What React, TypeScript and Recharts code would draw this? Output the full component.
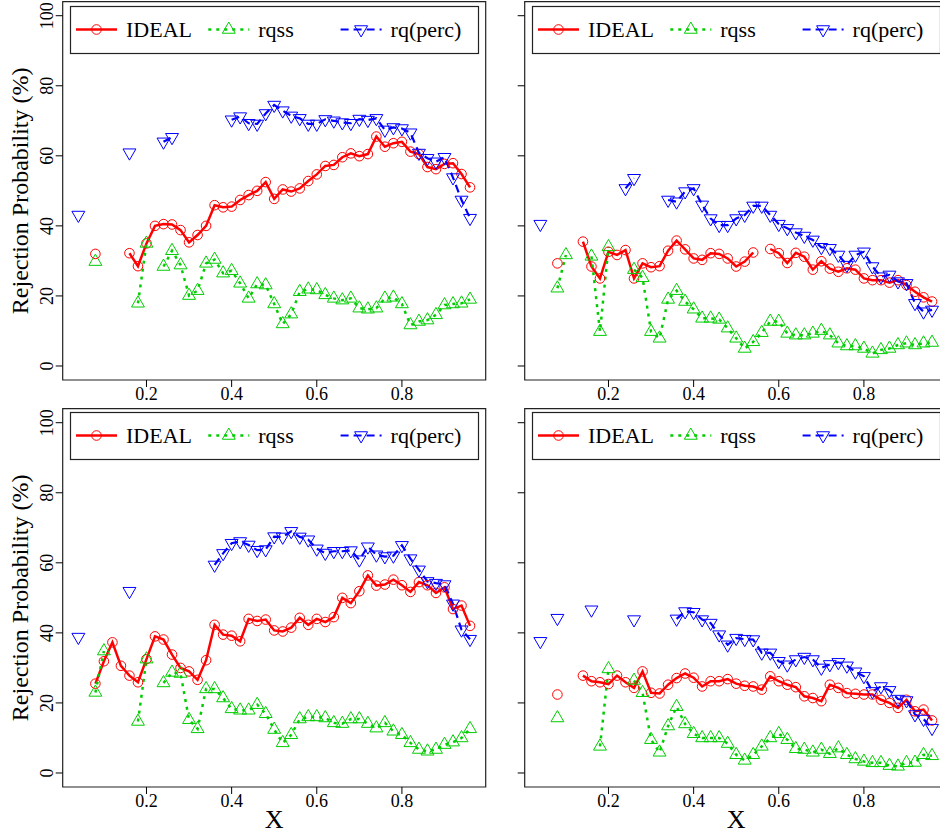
import React from 'react';
import { LineChart, Line, XAxis, YAxis, ReferenceArea, Legend } from 'recharts';

// ---------- data ----------
const X_VALUES = [
  0.04, 0.06, 0.08, 0.10, 0.12, 0.14, 0.16, 0.18, 0.20, 0.22,
  0.24, 0.26, 0.28, 0.30, 0.32, 0.34, 0.36, 0.38, 0.40, 0.42,
  0.44, 0.46, 0.48, 0.50, 0.52, 0.54, 0.56, 0.58, 0.60, 0.62,
  0.64, 0.66, 0.68, 0.70, 0.72, 0.74, 0.76, 0.78, 0.80, 0.82,
  0.84, 0.86, 0.88, 0.90, 0.92, 0.94, 0.96,
];

const X_TICKS = [0.2, 0.4, 0.6, 0.8];
const Y_TICKS = [0, 20, 40, 60, 80, 100];
const SERIES_KEYS = ['ideal', 'rqss', 'rqperc'];
const SERIES_NAMES = ['IDEAL', 'rqss', 'rq(perc)'];
const Y_TITLE = 'Rejection Probability (%)';
const X_TITLE = 'X';

// Panel 1 (top-left)
const P1_IDEAL = [
  null, null, 32.0, null, null, null, 32.2, 28.5, 35.0, 40.0,
  40.5, 40.4, 38.8, 35.3, 37.4, 40.0, 45.9, 45.3, 45.5, 47.4,
  48.8, 50.0, 52.5, 47.7, 50.4, 49.8, 50.7, 52.8, 54.7, 57.1,
  57.4, 59.6, 60.7, 59.9, 60.5, 65.5, 62.6, 63.6, 64.0, 61.2,
  60.5, 56.8, 56.2, 57.7, 57.9, 54.8, 51.0,
];
const P1_RQSS = [
  null, null, 29.8, null, null, null, null, 17.9, 35.0, null,
  28.4, 32.9, 28.8, 20.1, 21.5, 29.3, 30.4, 26.5, 27.2, 23.6,
  19.3, 23.4, 23.1, 17.7, 12.0, 14.8, 21.2, 21.9, 21.7, 20.3,
  19.3, 18.8, 19.3, 16.5, 16.2, 16.5, 19.3, 19.6, 17.7, 11.7,
  12.7, 13.1, 14.6, 17.4, 17.7, 17.9, 19.0,
];
const P1_RQPERC = [
  43.1, null, null, null, null, null, 60.9, null, null, null,
  64.0, 65.3, null, null, null, null, null, null, 70.3, 71.2,
  69.3, 69.1, 72.1, 74.5, 72.9, 71.4, 70.7, 69.1, 69.1, 70.4,
  70.0, 69.5, 69.3, 70.5, 70.2, 70.7, 67.4, 68.1, 67.8, 66.6,
  60.8, 59.3, 58.3, 59.6, 53.8, 47.4, 42.2,
];

// Panel 2 (top-right)
const P2_IDEAL = [
  null, null, 29.3, null, null, 35.5, 28.4, 25.0, 32.6, 31.7,
  33.1, 25.0, 29.3, 28.2, 28.5, 32.9, 35.8, 33.3, 30.7, 30.3,
  32.2, 32.0, 30.7, 28.4, 29.8, 32.4, null, 33.4, 32.2, 29.4,
  32.3, 31.2, 27.5, 29.9, 27.8, 26.9, 27.9, 27.5, 25.0, 24.5,
  24.5, 23.8, 24.5, 23.1, 21.2, 19.6, 18.4,
];
const P2_RQSS = [
  null, null, 22.2, 31.7, null, null, 31.3, 9.8, 34.0, null,
  null, 27.5, 25.2, 9.8, 7.9, 19.0, 21.5, 18.4, 16.2, 13.6,
  13.6, 13.3, 10.8, 7.9, 5.0, 6.9, 9.5, 12.7, 12.7, 9.3,
  8.8, 8.8, 9.3, 10.1, 8.8, 6.5, 5.7, 5.7, 5.0, 3.6,
  4.6, 5.0, 6.0, 6.5, 6.0, 6.5, 6.7,
];
const P2_RQPERC = [
  40.5, null, null, null, null, null, null, null, null, null,
  50.7, 53.6, null, null, null, 47.4, 46.9, 49.8, 50.7, 46.0,
  42.1, 40.2, 40.2, 42.1, 43.1, 45.7, 45.7, 43.1, 40.5, 39.3,
  38.1, 37.1, 36.0, 33.9, 33.6, 31.7, 28.8, 31.7, 32.6, 28.4,
  25.5, 26.0, 24.1, 23.6, 17.9, 15.5, 16.0,
];

// Panel 3 (bottom-left)
const P3_IDEAL = [
  null, null, 25.5, 31.9, 37.3, 30.6, 27.8, 25.9, 32.5, 39.0,
  38.1, 33.8, 30.0, 29.0, 26.6, 32.2, 42.3, 39.5, 39.2, 37.6,
  44.0, 43.4, 43.8, 40.7, 40.4, 41.5, 44.3, 42.3, 44.0, 43.1,
  44.5, 50.0, 48.5, 51.9, 56.4, 53.5, 53.8, 55.2, 53.6, 51.7,
  54.5, 53.6, 51.4, 53.0, 46.8, 47.8, 42.0,
];
const P3_RQSS = [
  null, null, 23.0, 34.8, null, null, null, 14.7, 32.5, null,
  25.7, 28.7, 28.4, 15.2, 12.6, 24.0, 24.0, 21.4, 18.3, 17.9,
  17.9, 19.5, 16.9, 12.4, 8.6, 10.9, 15.4, 16.0, 16.0, 15.7,
  14.3, 14.1, 15.4, 15.4, 14.1, 12.8, 14.3, 11.9, 10.9, 8.6,
  6.7, 6.2, 6.7, 8.1, 8.8, 10.0, 12.6,
];
const P3_RQPERC = [
  38.8, null, null, null, null, null, 51.9, null, null, null,
  null, null, null, null, null, null, 59.4, 62.7, 65.6, 66.1,
  65.1, 63.6, 63.8, 67.5, 67.4, 69.0, 67.4, 66.6, 64.0, 62.8,
  63.3, 63.3, 63.5, 60.9, 64.6, 62.3, 61.8, 62.0, 65.0, 61.2,
  58.0, 54.7, 54.2, 53.8, 48.3, 40.9, 38.2,
];

// Panel 4 (bottom-right)
const P4_IDEAL = [
  null, null, 22.4, null, null, 27.8, 26.2, 25.9, 25.4, 27.8,
  25.9, 24.3, 29.0, 22.9, 22.7, 25.2, 27.1, 28.4, 27.2, 24.7,
  26.2, 26.2, 26.8, 25.5, 24.9, 24.7, 23.8, 27.6, 26.2, 25.2,
  24.5, 21.9, 21.4, 20.5, 25.2, 24.3, 22.8, 22.6, 22.4, 22.4,
  20.9, 20.0, 18.6, 20.9, 17.6, 18.1, 15.0,
];
const P4_RQSS = [
  null, null, 15.7, null, null, null, null, 7.6, 29.7, null,
  null, 26.4, 22.9, 9.5, 5.9, 13.4, 18.9, 14.0, 11.2, 10.0,
  10.0, 10.0, 8.4, 5.2, 3.6, 5.2, 7.6, 10.0, 11.2, 9.5,
  6.9, 6.7, 5.9, 6.7, 5.5, 7.1, 5.2, 4.0, 3.3, 2.9,
  2.9, 2.1, 1.9, 2.9, 3.0, 5.2, 4.9,
];
const P4_RQPERC = [
  37.6, null, 44.2, null, null, null, 46.6, null, null, null,
  null, 43.8, null, null, null, null, 44.0, 46.1, 45.9, 43.8,
  42.8, 39.5, 36.6, 38.5, 38.2, 38.1, 34.3, 34.3, 31.9, 30.9,
  32.4, 33.1, 32.4, 30.0, 31.0, 31.6, 30.6, 28.9, 27.6, 23.3,
  24.7, 23.6, 21.1, 20.7, 16.7, 15.4, 12.8,
];

// ---------- styles ----------
const FONT = 'Liberation Serif, DejaVu Serif, serif';
const X_DOMAIN = [0.0032, 0.9968];
const Y_DOMAIN = [-4, 104];
const MS = 4.8; // marker size unit

const STYLES: Record<string, any> = {
  ideal: { color: '#FF0000', dash: undefined, width: 2.5, marker: 'circle' },
  rqss: { color: '#00CD00', dash: '3 5', width: 2.5, marker: 'up' },
  rqperc: { color: '#0000FF', dash: '8 5', width: 2.2, marker: 'down' },
};

function Marker({ kind, cx, cy, color }: any) {
  if (kind === 'circle') {
    return <circle cx={cx} cy={cy} r={MS} fill="none" stroke={color} strokeWidth={1} />;
  }
  if (kind === 'up') {
    const pts = `${cx},${cy - 1.555 * MS} ${cx + 1.347 * MS},${cy + 0.778 * MS} ${cx - 1.347 * MS},${cy + 0.778 * MS}`;
    return <polygon points={pts} fill="none" stroke={color} strokeWidth={1} />;
  }
  const pts = `${cx},${cy + 1.555 * MS} ${cx + 1.347 * MS},${cy - 0.778 * MS} ${cx - 1.347 * MS},${cy - 0.778 * MS}`;
  return <polygon points={pts} fill="none" stroke={color} strokeWidth={1} />;
}

const makeDot = (key: string) => (props: any) => {
  const { cx, cy, value, index } = props;
  const st = STYLES[key];
  if (value === null || value === undefined || cx == null || cy == null || isNaN(cy)) {
    return <g key={`${key}-e-${index}`} />;
  }
  return (
    <g key={`${key}-d-${index}`}>
      <Marker kind={st.marker} cx={cx} cy={cy} color={st.color} />
    </g>
  );
};

const XTick = (props: any) => {
  const { x, y, payload } = props;
  return (
    <text x={x} y={y + 13} textAnchor="middle" style={{ fontFamily: FONT }} fontSize={18} fill="#000">
      {String(payload.value)}
    </text>
  );
};

const YTick = (props: any) => {
  const { x, y, payload } = props;
  return (
    <text
      transform={`translate(${x - 2.4},${y}) rotate(-90)`}
      x={0}
      y={0}
      textAnchor="middle"
      style={{ fontFamily: FONT }}
      fontSize={18}
      fill="#000"
    >
      {String(payload.value)}
    </text>
  );
};

const EmptyTick = () => <g />;

const YTitle = (props: any) => {
  const vb = props.viewBox || { x: 0, y: 1.7, width: 62.7, height: 378.3 };
  const cy = vb.y + vb.height / 2;
  return (
    <text
      transform={`translate(${28},${cy}) rotate(-90)`}
      x={0}
      y={0}
      textAnchor="middle"
      style={{ fontFamily: FONT }}
      fontSize={24}
      fill="#000"
    >
      {Y_TITLE}
    </text>
  );
};

const XTitle = (props: any) => {
  const vb = props.viewBox || { x: 62.7, y: 380, width: 423, height: 60 };
  return (
    <text x={vb.x + vb.width / 2} y={vb.y + 41} textAnchor="middle" style={{ fontFamily: FONT }} fontSize={26} fill="#000">
      {X_TITLE}
    </text>
  );
};

const renderLegend = (props: any) => {
  const payload = [...(props.payload || [])].sort(
    (a: any, b: any) => SERIES_KEYS.indexOf(a.dataKey) - SERIES_KEYS.indexOf(b.dataKey)
  );
  return (
    <svg width={410} height={49} style={{ display: 'block', overflow: 'visible' }}>
      <rect x={0.5} y={0.5} width={408} height={47} fill="#fff" stroke="#222" strokeWidth={1.2} />
      {payload.map((entry: any, i: number) => {
        const st = STYLES[entry.dataKey];
        const x0 = 6 + 132.3 * i;
        return (
          <g key={`leg-${i}`}>
            <line
              x1={x0}
              x2={x0 + 41}
              y1={23.5}
              y2={23.5}
              stroke={st.color}
              strokeWidth={st.width}
              strokeDasharray={st.dash}
            />
            <Marker kind={st.marker} cx={x0 + 20.5} cy={23.5} color={st.color} />
            <text x={x0 + 50} y={31} style={{ fontFamily: FONT }} fontSize={22} fill="#000">
              {entry.value}
            </text>
          </g>
        );
      })}
    </svg>
  );
};

function buildRows(ideal: any[], rqss: any[], rqperc: any[]) {
  return X_VALUES.map((x, i) => ({ x, ideal: ideal[i], rqss: rqss[i], rqperc: rqperc[i] }));
}

function Panel({ left, top, rows, yLabels, xTitle }: any) {
  return (
    <div style={{ position: 'absolute', left, top }}>
      <LineChart width={500} height={440} data={rows} margin={{ top: 1.7, right: 14.3, bottom: 0, left: 0 }}>
        <XAxis
          dataKey="x"
          type="number"
          domain={X_DOMAIN}
          ticks={X_TICKS}
          interval={0}
          allowDataOverflow
          axisLine={false}
          tickLine={{ stroke: '#000', strokeWidth: 1 }}
          tickSize={7}
          tickMargin={0}
          tick={XTick}
          height={60}
          label={xTitle ? { content: XTitle } : undefined}
        />
        <YAxis
          type="number"
          domain={Y_DOMAIN}
          ticks={Y_TICKS}
          interval={0}
          allowDataOverflow
          axisLine={false}
          tickLine={{ stroke: '#000', strokeWidth: 1 }}
          tickSize={7}
          tickMargin={0}
          width={62.7}
          tick={yLabels ? YTick : EmptyTick}
          label={yLabels ? { content: YTitle } : undefined}
        />
        <ReferenceArea
          x1={X_DOMAIN[0]}
          x2={X_DOMAIN[1]}
          y1={Y_DOMAIN[0]}
          y2={Y_DOMAIN[1]}
          fill="none"
          fillOpacity={0}
          stroke="#222"
          strokeWidth={1.2}
          ifOverflow="visible"
        />
        <Line
          dataKey="ideal"
          name={SERIES_NAMES[0]}
          stroke={STYLES.ideal.color}
          strokeWidth={STYLES.ideal.width}
          dot={makeDot('ideal')}
          activeDot={false}
          isAnimationActive={false}
          type="linear"
        />
        <Line
          dataKey="rqss"
          name={SERIES_NAMES[1]}
          stroke={STYLES.rqss.color}
          strokeWidth={STYLES.rqss.width}
          strokeDasharray={STYLES.rqss.dash}
          dot={makeDot('rqss')}
          activeDot={false}
          isAnimationActive={false}
          type="linear"
        />
        <Line
          dataKey="rqperc"
          name={SERIES_NAMES[2]}
          stroke={STYLES.rqperc.color}
          strokeWidth={STYLES.rqperc.width}
          strokeDasharray={STYLES.rqperc.dash}
          dot={makeDot('rqperc')}
          activeDot={false}
          isAnimationActive={false}
          type="linear"
        />
        <Legend
          layout="horizontal"
          verticalAlign="middle"
          align="center"
          itemSorter={null as any}
          content={renderLegend}
          wrapperStyle={{ position: 'absolute', left: 70, top: 5.7, width: 410, height: 49 }}
        />
      </LineChart>
    </div>
  );
}

const ROWS_1 = buildRows(P1_IDEAL, P1_RQSS, P1_RQPERC);
const ROWS_2 = buildRows(P2_IDEAL, P2_RQSS, P2_RQPERC);
const ROWS_3 = buildRows(P3_IDEAL, P3_RQSS, P3_RQPERC);
const ROWS_4 = buildRows(P4_IDEAL, P4_RQSS, P4_RQPERC);

export default function App() {
  return (
    <div
      style={{
        position: 'absolute',
        left: 0,
        top: 0,
        width: 940,
        height: 835,
        overflow: 'hidden',
        background: '#fff',
      }}
    >
      <Panel left={0} top={0} rows={ROWS_1} yLabels={true} xTitle={false} />
      <Panel left={462.4} top={0} rows={ROWS_2} yLabels={false} xTitle={false} />
      <Panel left={0} top={406.5} rows={ROWS_3} yLabels={true} xTitle={true} />
      <Panel left={462.4} top={406.5} rows={ROWS_4} yLabels={false} xTitle={true} />
    </div>
  );
}
